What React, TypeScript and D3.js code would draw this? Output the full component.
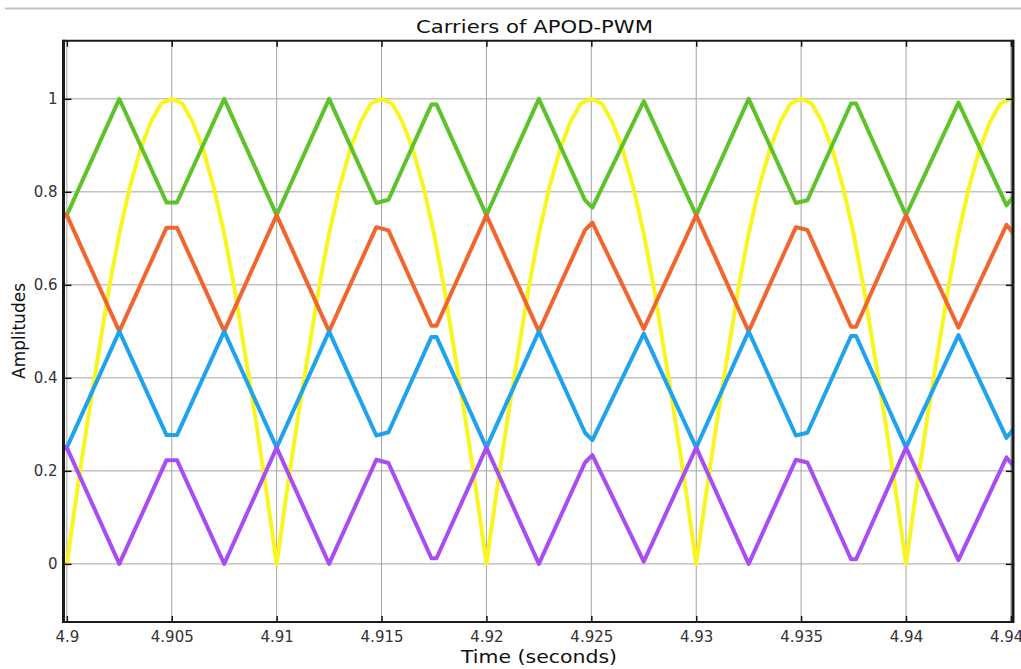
import React, { useEffect, useRef } from 'react';
import * as d3 from 'd3';

// axis ticks
const xTicks = [4.9, 4.905, 4.91, 4.915, 4.92, 4.925, 4.93, 4.935, 4.94, 4.945];
const xTickLabels = ['4.9', '4.905', '4.91', '4.915', '4.92', '4.925', '4.93', '4.935', '4.94', '4.945'];
const yTicks = [0, 0.2, 0.4, 0.6, 0.8, 1];
const yTickLabels = ['0', '0.2', '0.4', '0.6', '0.8', '1'];

// rectified reference (yellow)
const refTimes = [
  4.9, 4.9005, 4.901, 4.9015, 4.902, 4.9025, 4.903, 4.9035, 4.904, 4.9045,
  4.905, 4.9055, 4.906, 4.9065, 4.907, 4.9075, 4.908, 4.9085, 4.909, 4.9095,
  4.91, 4.9105, 4.911, 4.9115, 4.912, 4.9125, 4.913, 4.9135, 4.914, 4.9145,
  4.915, 4.9155, 4.916, 4.9165, 4.917, 4.9175, 4.918, 4.9185, 4.919, 4.9195,
  4.92, 4.9205, 4.921, 4.9215, 4.922, 4.9225, 4.923, 4.9235, 4.924, 4.9245,
  4.925, 4.9255, 4.926, 4.9265, 4.927, 4.9275, 4.928, 4.9285, 4.929, 4.9295,
  4.93, 4.9305, 4.931, 4.9315, 4.932, 4.9325, 4.933, 4.9335, 4.934, 4.9345,
  4.935, 4.9355, 4.936, 4.9365, 4.937, 4.9375, 4.938, 4.9385, 4.939, 4.9395,
  4.94, 4.9405, 4.941, 4.9415, 4.942, 4.9425, 4.943, 4.9435, 4.944, 4.9445,
  4.945,
];
const refValues = [
  0, 0.16, 0.31, 0.45, 0.59, 0.71, 0.81, 0.89, 0.95, 0.99,
  1, 0.99, 0.95, 0.89, 0.81, 0.71, 0.59, 0.45, 0.31, 0.16,
  0, 0.16, 0.31, 0.45, 0.59, 0.71, 0.81, 0.89, 0.95, 0.99,
  1, 0.99, 0.95, 0.89, 0.81, 0.71, 0.59, 0.45, 0.31, 0.16,
  0, 0.16, 0.31, 0.45, 0.59, 0.71, 0.81, 0.89, 0.95, 0.99,
  1, 0.99, 0.95, 0.89, 0.81, 0.71, 0.59, 0.45, 0.31, 0.16,
  0, 0.16, 0.31, 0.45, 0.59, 0.71, 0.81, 0.89, 0.95, 0.99,
  1, 0.99, 0.95, 0.89, 0.81, 0.71, 0.59, 0.45, 0.31, 0.16,
  0, 0.16, 0.31, 0.45, 0.59, 0.71, 0.81, 0.89, 0.95, 0.99,
  1,
];

// triangular carriers: vertex times shared by all four bands
const carrierTimes = [
  4.8998, 4.9, 4.9025, 4.90475, 4.90525, 4.9075, 4.91, 4.9125, 4.91475, 4.91533,
  4.91738, 4.91762, 4.92, 4.9225, 4.9247, 4.92505, 4.9275, 4.93, 4.9325, 4.93475,
  4.9353, 4.93738, 4.93762, 4.94, 4.9425, 4.94479, 4.9453,
];
const carrier1 = [ // 0.75 .. 1
  0.755, 0.75, 1, 0.777, 0.777, 1, 0.75, 1, 0.776, 0.783,
  0.988, 0.988, 0.75, 1, 0.782, 0.766, 0.995, 0.75, 1, 0.776,
  0.782, 0.99, 0.99, 0.75, 0.992, 0.771, 0.8,
];
const carrier2 = [ // 0.5 .. 0.75
  0.745, 0.75, 0.5, 0.723, 0.723, 0.5, 0.75, 0.5, 0.724, 0.717,
  0.512, 0.512, 0.75, 0.5, 0.718, 0.734, 0.505, 0.75, 0.5, 0.724,
  0.718, 0.51, 0.51, 0.75, 0.508, 0.729, 0.7,
];
const carrier3 = [ // 0.25 .. 0.5
  0.255, 0.25, 0.5, 0.277, 0.277, 0.5, 0.25, 0.5, 0.276, 0.283,
  0.488, 0.488, 0.25, 0.5, 0.282, 0.266, 0.495, 0.25, 0.5, 0.276,
  0.282, 0.49, 0.49, 0.25, 0.492, 0.271, 0.3,
];
const carrier4 = [ // 0 .. 0.25
  0.245, 0.25, 0, 0.223, 0.223, 0, 0.25, 0, 0.224, 0.217,
  0.012, 0.012, 0.25, 0, 0.218, 0.234, 0.005, 0.25, 0, 0.224,
  0.218, 0.01, 0.01, 0.25, 0.008, 0.229, 0.2,
];

const carrierSeries = [
  { values: carrier1, color: '#5ec22b' },
  { values: carrier2, color: '#f0662e' },
  { values: carrier3, color: '#1ea3ec' },
  { values: carrier4, color: '#a94cf2' },
];

const FONT = '"DejaVu Sans", "Liberation Sans", Arial, sans-serif';

const ApodChart = () => {
  const svgRef = useRef<SVGSVGElement | null>(null);

  useEffect(() => {
    if (!svgRef.current) return;
    const svg = d3.select(svgRef.current);
    svg.selectAll('*').remove();

    const left = 63.5, right = 1013, top = 40.7, bottom = 622;

    const x = d3.scaleLinear().domain([4.89984, 4.9451]).range([left, right]);
    const y = d3.scaleLinear().domain([-0.125, 1.125]).range([bottom, top]);

    // faint rule across the top of the figure
    svg.append('line')
      .attr('x1', 5).attr('x2', 1021).attr('y1', 8.5).attr('y2', 8.5)
      .attr('stroke', '#c4c4c4').attr('stroke-width', 2);

    // grid
    const grid = svg.append('g').attr('stroke', '#a3a3a3').attr('stroke-width', 1);
    grid.selectAll('line.vx').data(xTicks).join('line')
      .attr('class', 'vx')
      .attr('x1', d => x(d)).attr('x2', d => x(d))
      .attr('y1', top).attr('y2', bottom);
    grid.selectAll('line.hy').data(yTicks).join('line')
      .attr('class', 'hy')
      .attr('x1', left).attr('x2', right)
      .attr('y1', d => y(d)).attr('y2', d => y(d));

    // clip for the traces
    svg.append('defs').append('clipPath').attr('id', 'plot-clip')
      .append('rect')
      .attr('x', left).attr('y', top)
      .attr('width', right - left).attr('height', bottom - top);

    const traces = svg.append('g').attr('clip-path', 'url(#plot-clip)');

    const line = d3.line<[number, number]>()
      .x(d => x(d[0]))
      .y(d => y(d[1]));

    traces.append('path')
      .attr('d', line(refTimes.map((t, i) => [t, refValues[i]] as [number, number])))
      .attr('fill', 'none')
      .attr('stroke', '#f9f51e')
      .attr('stroke-width', 4)
      .attr('stroke-linejoin', 'round');

    carrierSeries.forEach(s => {
      traces.append('path')
        .attr('d', line(carrierTimes.map((t, i) => [t, s.values[i]] as [number, number])))
        .attr('fill', 'none')
        .attr('stroke', s.color)
        .attr('stroke-width', 4)
        .attr('stroke-linejoin', 'round');
    });

    // axes
    const styleAxis = (g: any) => {
      g.select('.domain').remove();
      g.selectAll('.tick line').attr('stroke', '#111').attr('stroke-width', 1.5);
      g.selectAll('.tick text')
        .attr('fill', '#333')
        .style('font-family', FONT)
        .style('font-size', '15px');
    };

    svg.append('g')
      .attr('transform', `translate(0,${bottom})`)
      .call(d3.axisBottom(x).tickValues(xTicks)
        .tickFormat((d, i) => xTickLabels[i])
        .tickSizeInner(-6).tickSizeOuter(0).tickPadding(9))
      .call(styleAxis);

    svg.append('g')
      .attr('transform', `translate(0,${top})`)
      .call(d3.axisTop(x).tickValues(xTicks).tickFormat(() => '')
        .tickSizeInner(-6).tickSizeOuter(0))
      .call(styleAxis);

    svg.append('g')
      .attr('transform', `translate(${left},0)`)
      .call(d3.axisLeft(y).tickValues(yTicks)
        .tickFormat((d, i) => yTickLabels[i])
        .tickSizeInner(-8).tickSizeOuter(0).tickPadding(6))
      .call(styleAxis);

    svg.append('g')
      .attr('transform', `translate(${right},0)`)
      .call(d3.axisRight(y).tickValues(yTicks).tickFormat(() => '')
        .tickSizeInner(-7).tickSizeOuter(0))
      .call(styleAxis);

    // frame
    const frame = svg.append('g').attr('stroke', '#1a1a1a');
    frame.append('line').attr('x1', left).attr('x2', left).attr('y1', top - 1).attr('y2', bottom + 1).attr('stroke-width', 3);
    frame.append('line').attr('x1', right).attr('x2', right).attr('y1', top - 1).attr('y2', bottom + 1).attr('stroke-width', 3);
    frame.append('line').attr('x1', left).attr('x2', right).attr('y1', top).attr('y2', top).attr('stroke-width', 2);
    frame.append('line').attr('x1', left).attr('x2', right).attr('y1', bottom).attr('y2', bottom).attr('stroke-width', 2);

    // title and labels
    svg.append('text')
      .attr('x', 534.5).attr('y', 33)
      .attr('text-anchor', 'middle')
      .attr('textLength', 237).attr('lengthAdjust', 'spacingAndGlyphs')
      .style('font-family', FONT).style('font-size', '18px')
      .attr('fill', '#111')
      .text('Carriers of APOD-PWM');

    svg.append('text')
      .attr('x', 539).attr('y', 663)
      .attr('text-anchor', 'middle')
      .attr('textLength', 156).attr('lengthAdjust', 'spacingAndGlyphs')
      .style('font-family', FONT).style('font-size', '18px')
      .attr('fill', '#111')
      .text('Time (seconds)');

    svg.append('text')
      .attr('transform', 'translate(25,331) rotate(-90)')
      .attr('text-anchor', 'middle')
      .style('font-family', FONT).style('font-size', '17px')
      .attr('fill', '#111')
      .text('Amplitudes');
  }, []);

  return (
    <svg
      ref={svgRef}
      width={1021}
      height={669}
      style={{ position: 'absolute', left: 0, top: 0, background: '#fff' }}
    />
  );
};

export default function App() {
  return <ApodChart />;
}
